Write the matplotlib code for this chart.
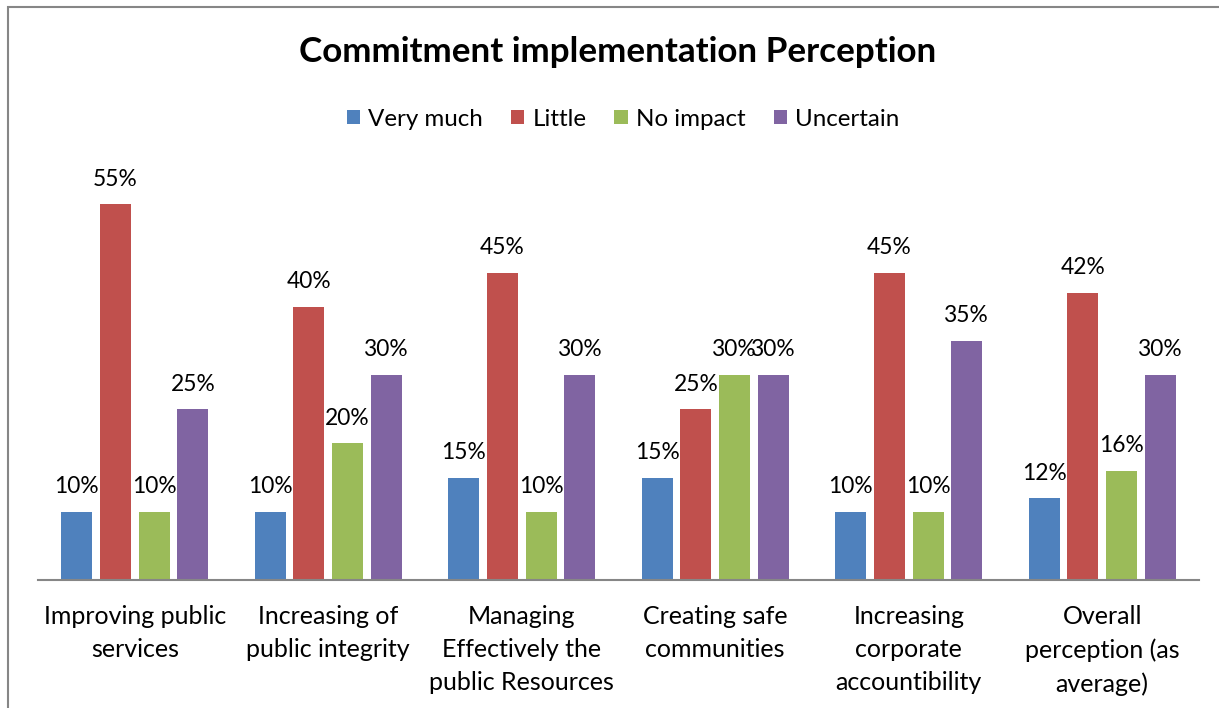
import matplotlib
matplotlib.use("Agg")
import matplotlib.pyplot as plt
import numpy as np
from matplotlib.patches import Rectangle

categories = ["Improving public\nservices", "Increasing of\npublic integrity",
              "Managing\nEffectively the\npublic Resources", "Creating safe\ncommunities",
              "Increasing\ncorporate\naccountibility", "Overall\nperception (as\naverage)"]
series_names = ["Very much", "Little", "No impact", "Uncertain"]
very_much = [0.10, 0.10, 0.15, 0.15, 0.10, 0.12]
little = [0.55, 0.40, 0.45, 0.25, 0.45, 0.42]
no_impact = [0.10, 0.20, 0.10, 0.30, 0.10, 0.16]
uncertain = [0.25, 0.30, 0.30, 0.30, 0.35, 0.30]
colors = ["#4F81BD", "#C0504D", "#9BBB59", "#8064A2"]

plt.rcParams['font.family'] = ['Lato', 'DejaVu Sans']

W, H = 1219, 708
fig = plt.figure(figsize=(W/100, H/100), dpi=100)
fig.patches.append(Rectangle((8/W, -0.1), 1.2, (H-7)/H + 0.1, transform=fig.transFigure,
                             fill=False, edgecolor="#868686", linewidth=1.5))

ax = fig.add_axes([38/W, (H-580)/H, (1199-38)/W, (580-170)/H])
data = [very_much, little, no_impact, uncertain]
n = len(categories)
x = np.arange(n)
slot = 0.2
bw = 0.16
for i, (vals, name, c) in enumerate(zip(data, series_names, colors)):
    pos = x + (i - 1.5) * slot
    bars = ax.bar(pos, vals, width=bw, color=c, label=name)
    for p, v in zip(pos, vals):
        ax.annotate(f"{round(v*100):.0f}%", (p, v), xytext=(0, 18), textcoords="offset points",
                    ha="center", va="center", fontsize=16.4)

ax.set_xlim(-0.5, n - 0.5)
ax.set_ylim(0, 0.6)
ax.set_yticks([])
ax.set_xticks(x)
ax.set_xticklabels(categories, fontsize=18, linespacing=1.52)
ax.tick_params(axis="x", length=0, pad=18)
for s in ["top", "right", "left"]:
    ax.spines[s].set_visible(False)
ax.spines["bottom"].set_color("#868686")
ax.spines["bottom"].set_linewidth(1.5)

fig.text(618/W, 1 - 52/H, "Commitment implementation Perception", ha="center", va="center",
         fontsize=25.2, fontweight="bold")
fig.legend(loc="center", bbox_to_anchor=(623/W, 1 - 119/H), ncol=4, frameon=False,
           fontsize=17.4, handlelength=0.55, handleheight=0.55, handletextpad=0.35, columnspacing=1.15)

fig.savefig("out.png", dpi=100)
